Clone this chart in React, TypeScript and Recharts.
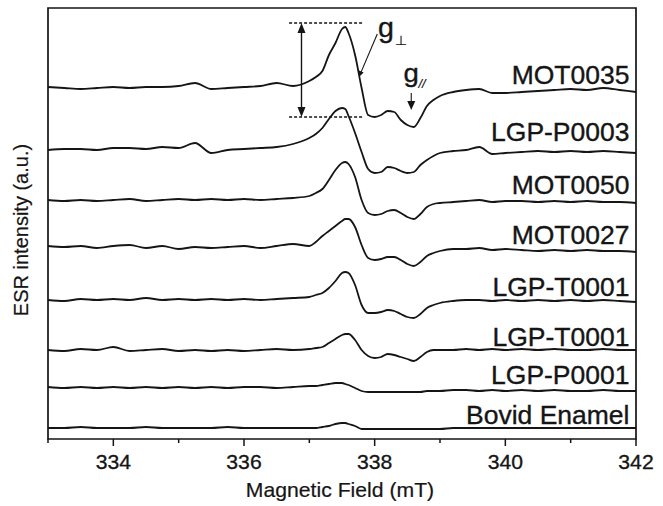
import React from 'react';
import { LineChart, Line, XAxis, YAxis, ReferenceLine, ReferenceDot, ReferenceArea, Label } from 'recharts';

// Magnetic field (mT)
const field = [
  333.0, 333.25, 333.5, 333.75, 334.0, 334.25, 334.5, 334.75, 335.0, 335.25, 335.5, 335.75, 336.0, 336.25, 336.5, 336.75,
  337.0, 337.1, 337.2, 337.3, 337.4, 337.5, 337.55, 337.6, 337.7, 337.8, 337.9,
  338.0, 338.1, 338.2, 338.3, 338.4, 338.5, 338.6, 338.7, 338.8, 338.9,
  339.0, 339.2, 339.4, 339.6, 339.8,
  340.0, 340.25, 340.5, 340.75, 341.0, 341.25, 341.5, 341.75, 342.0,
];

// ESR intensity (a.u.), stacked spectra
const mot0035 = [
  352, 351, 350, 351, 352, 351, 352, 352, 353, 356, 350, 351, 352, 353, 356, 353,
  358, 362, 368, 384, 396, 410, 412, 406, 384, 351, 324,
  322, 324, 328, 327, 319, 314, 312, 321, 333, 339,
  343, 347, 349, 350, 346,
  346, 347, 348, 349, 350, 349, 351, 349, 347,
];
const lgpP0003 = [
  289, 290, 290, 289, 291, 291, 290, 292, 291, 296, 286, 289, 290, 291, 292, 295,
  301, 305, 311, 320, 328, 331, 330, 323, 306, 287, 270,
  266, 267, 272, 271, 268, 266, 267, 274, 279, 283,
  286, 288, 289, 292, 285,
  286, 287, 288, 287, 288, 287, 288, 287, 286,
];
const mot0050 = [
  239, 238, 239, 238, 239, 240, 238, 239, 240, 239, 240, 239, 240, 239, 240, 241,
  243, 246, 250, 259, 269, 276, 277, 275, 262, 239, 226,
  224, 225, 228, 229, 226, 222, 220, 225, 232, 235,
  236, 237, 238, 239, 237,
  238, 238, 237, 238, 237, 238, 237, 237, 236,
];
const mot0027 = [
  193, 192, 193, 191, 193, 194, 191, 193, 190, 192, 191, 192, 193, 191, 193, 195,
  193, 197, 203, 208, 213, 218, 220, 220, 212, 194, 181,
  179, 180, 182, 182, 179, 175, 173, 177, 183, 186,
  188, 190, 190, 191, 189,
  190, 189, 188, 189, 188, 189, 188, 188, 187,
];
const lgpT0001a = [
  139, 138, 140, 139, 140, 139, 141, 139, 140, 139, 140, 139, 140, 139, 140, 141,
  142, 144, 146, 151, 158, 166, 167, 166, 154, 134, 126,
  126, 127, 129, 128, 125, 122, 121, 125, 131, 134,
  136, 138, 139, 139, 138,
  139, 138, 139, 138, 139, 138, 139, 138, 137,
];
const lgpT0001b = [
  89, 88, 90, 89, 92, 88, 89, 90, 88, 89, 88, 89, 88, 89, 90, 89,
  90, 91, 92, 96, 100, 104, 105, 105, 99, 89, 83,
  81, 82, 85, 84, 82, 80, 78, 82, 87, 89,
  89, 89, 90, 89, 90,
  89, 90, 89, 90, 89, 89, 90, 89, 89,
];
const lgpP0001 = [
  52, 51, 52, 51, 52, 51, 52, 51, 52, 51, 52, 51, 52, 52, 51, 52,
  53, 53, 54, 55, 56, 56, 55, 54, 51, 48, 47,
  47, 47, 47, 47, 47, 47, 47, 47, 48, 48,
  48, 49, 49, 48, 49,
  48, 49, 48, 49, 48, 48, 49, 48, 48,
];
const bovidEnamel = [
  11, 11, 12, 11, 11, 11, 12, 11, 11, 11, 11, 12, 11, 11, 11, 11,
  11, 11, 12, 13, 15, 16, 16, 15, 13, 10, 10,
  10, 10, 10, 10, 10, 10, 10, 10, 10, 10,
  10, 11, 11, 11, 11,
  11, 11, 11, 11, 11, 11, 11, 11, 11,
];

const seriesValues = [mot0035, lgpP0003, mot0050, mot0027, lgpT0001a, lgpT0001b, lgpP0001, bovidEnamel];
const seriesNames = ['MOT0035', 'LGP-P0003', 'MOT0050', 'MOT0027', 'LGP-T0001', 'LGP-T0001', 'LGP-P0001', 'Bovid Enamel'];
const labelLevels = [355, 298, 245, 195, 143, 93, 55, 15];
const labelField = 341.9;

const xTicks = [333, 334, 335, 336, 337, 338, 339, 340, 341, 342];

// annotation anchors (data units)
const dashRange = [336.69, 337.83];
const dashLevels = [416, 322];
const heightArrowField = 336.88;
const gPerpAnchor = { x: 338.05, y: 402 };
const gPerpLeader = [{ x: 338.04, y: 405 }, { x: 337.76, y: 362 }];
const gParAnchor = { x: 338.44, y: 357 };
const gParArrow = [{ x: 338.56, y: 346 }, { x: 338.56, y: 329 }];
const yTitleAnchor = { x: 333, y: 209 };

const data = field.map((b, i) => {
  const row: any = { B: b };
  seriesValues.forEach((s, k) => { row['s' + k] = s[i]; });
  return row;
});

const INK = '#151515';
const FONT = '"Liberation Sans", Arial, Helvetica, sans-serif';
const SX = 1.06;

const XTick = (props: any) => {
  const { x, y, payload } = props;
  const v = payload.value;
  const major = v % 2 === 0;
  return (
    <g>
      <line x1={x} x2={x} y1={y} y2={y + (major ? 7 : 4)} stroke={INK} strokeWidth={1.5} />
      {major && (
        <text transform={`translate(${x},${y + 30}) scale(${SX},1)`} textAnchor="middle" fontSize={20} fontFamily={FONT} fill={INK} stroke={INK} strokeWidth={0.3}>
          {v}
        </text>
      )}
    </g>
  );
};

const XTitle = (props: any) => {
  const vb = props.viewBox || {};
  const cx = vb.x + vb.width / 2 - 2;
  return (
    <text transform={`translate(${cx},${vb.y + 58}) scale(${SX},1)`} textAnchor="middle" fontSize={20} fontFamily={FONT} fill={INK} stroke={INK} strokeWidth={0.2}>
      Magnetic Field (mT)
    </text>
  );
};

const YTitle = (p: any) => (
  <text transform={`translate(${p.cx - 20},${p.cy}) rotate(-90)`} textAnchor="middle" fontSize={20} fontFamily={FONT} fill={INK} stroke={INK} strokeWidth={0.2}>
    ESR intensity (a.u.)
  </text>
);

const SeriesLabel = (text: string) => (p: any) => (
  <text transform={`translate(${p.cx},${p.cy}) scale(${SX},1)`} textAnchor="end" fontSize={25} fontFamily={FONT} fill={INK} stroke={INK} strokeWidth={0.35}>
    {text}
  </text>
);

const DoubleArrow = (p: any) => {
  const { x1, y1, x2, y2 } = p;
  const top = Math.min(y1, y2);
  const bot = Math.max(y1, y2);
  return (
    <g>
      <line x1={x1} x2={x2} y1={top + 6} y2={bot - 6} stroke={INK} strokeWidth={1.4} />
      <polygon points={`${x1},${top} ${x1 - 4},${top + 10} ${x1 + 4},${top + 10}`} fill={INK} />
      <polygon points={`${x1},${bot} ${x1 - 4},${bot - 10} ${x1 + 4},${bot - 10}`} fill={INK} />
    </g>
  );
};

const ArrowLine = (len: number, half: number) => (p: any) => {
  const { x1, y1, x2, y2 } = p;
  const dx = x2 - x1;
  const dy = y2 - y1;
  const d = Math.sqrt(dx * dx + dy * dy) || 1;
  const ux = dx / d;
  const uy = dy / d;
  const bx = x2 - ux * len;
  const by = y2 - uy * len;
  return (
    <g>
      <line x1={x1} y1={y1} x2={bx + ux} y2={by + uy} stroke={INK} strokeWidth={1.1} />
      <polygon points={`${x2},${y2} ${bx - uy * half},${by + ux * half} ${bx + uy * half},${by - ux * half}`} fill={INK} />
    </g>
  );
};

const GPerp = (p: any) => (
  <g fontFamily={FONT} fill={INK} stroke={INK} strokeWidth={0.35}>
    <text transform={`translate(${p.cx},${p.cy}) scale(${SX},1)`} fontSize={27}>g</text>
    <text transform={`translate(${p.cx + 17},${p.cy + 8}) scale(${SX},1)`} fontSize={13} strokeWidth={0.2}>⊥</text>
  </g>
);

const GPar = (p: any) => (
  <g fontFamily={FONT} fill={INK} stroke={INK} strokeWidth={0.35}>
    <text transform={`translate(${p.cx},${p.cy}) scale(${SX},1)`} fontSize={26}>g</text>
    <text transform={`translate(${p.cx + 15},${p.cy + 6}) scale(${SX},1)`} fontSize={12} fontStyle="italic" strokeWidth={0.2}>//</text>
  </g>
);

export default function App() {
  return (
    <div style={{ position: 'absolute', left: 0, top: 0, width: 663, height: 506, background: '#fff' }}>
      <LineChart width={663} height={506} data={data} margin={{ top: 8, right: 27, left: 48, bottom: 0 }}>
        <XAxis
          dataKey="B"
          type="number"
          domain={[333, 342]}
          ticks={xTicks}
          interval={0}
          height={67}
          axisLine={false}
          tickLine={false}
          tickSize={0}
          tickMargin={0}
          tick={<XTick />}
        >
          <Label content={<XTitle />} />
        </XAxis>
        <YAxis type="number" domain={[0, 431]} width={0} tick={false} axisLine={false} tickLine={false} />
        <ReferenceArea x1={333} x2={342} y1={0} y2={431} fill="none" fillOpacity={0} stroke={INK} strokeWidth={1.7} />
        {seriesValues.map((_, k) => (
          <Line
            key={k}
            dataKey={'s' + k}
            type="monotone"
            stroke={INK}
            strokeWidth={1.8}
            dot={false}
            activeDot={false}
            isAnimationActive={false}
          />
        ))}
        {dashLevels.map((lv, i) => (
          <ReferenceLine
            key={'d' + i}
            segment={[{ x: dashRange[0], y: lv }, { x: dashRange[1], y: lv }]}
            stroke={INK}
            strokeWidth={1.6}
            strokeDasharray="3 2"
          />
        ))}
        <ReferenceLine
          segment={[{ x: heightArrowField, y: dashLevels[0] }, { x: heightArrowField, y: dashLevels[1] }]}
          shape={DoubleArrow}
        />
        <ReferenceLine segment={gPerpLeader} shape={ArrowLine(6, 2.5)} />
        <ReferenceLine segment={gParArrow} shape={ArrowLine(9, 4)} />
        <ReferenceDot x={gPerpAnchor.x} y={gPerpAnchor.y} r={0} shape={GPerp} />
        <ReferenceDot x={gParAnchor.x} y={gParAnchor.y} r={0} shape={GPar} />
        <ReferenceDot x={yTitleAnchor.x} y={yTitleAnchor.y} r={0} ifOverflow="visible" shape={YTitle} />
        {seriesNames.map((name, k) => (
          <ReferenceDot key={'l' + k} x={labelField} y={labelLevels[k]} r={0} shape={SeriesLabel(name)} />
        ))}
      </LineChart>
    </div>
  );
}
